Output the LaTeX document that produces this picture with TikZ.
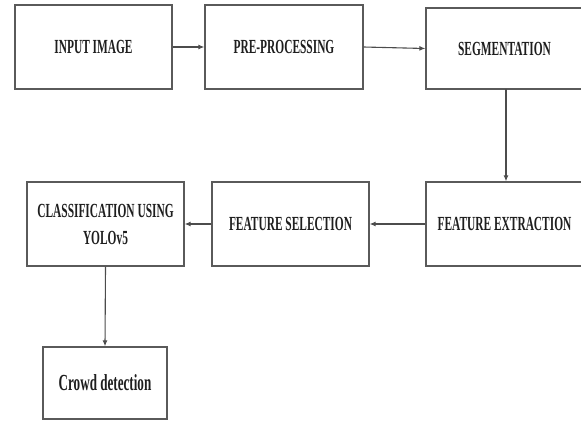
\documentclass[tikz,border=0pt]{standalone}
\usepackage{fontspec}
\setmainfont{Liberation Serif}
\newfontfamily\condfont[FakeStretch=0.57]{Liberation Serif}
\usetikzlibrary{arrows.meta}
\definecolor{boxline}{HTML}{5A5A5A}
\definecolor{txt}{HTML}{1E1E1E}
\tikzset{
  stage/.style={draw=boxline, line width=1.3pt, inner sep=0pt, align=center,
    text=txt, font=\condfont\bfseries\fontsize{20}{27}\selectfont},
  flow/.style={draw=boxline!85!black, line width=1.1pt,
    -{Latex[length=6pt,width=5pt]}}
}
\begin{document}
\begin{tikzpicture}[x=1pt,y=-1pt]
\useasboundingbox (0,0) rectangle (581,421);
\node[stage, minimum width=157pt, minimum height=84pt] (in)  at (93.5,47)  {INPUT IMAGE};
\node[stage, minimum width=158pt, minimum height=84pt] (pre) at (284,47)   {PRE-PROCESSING};
\node[stage, minimum width=157pt, minimum height=81pt] (seg) at (504.5,48.5) {SEGMENTATION};
\node[stage, minimum width=157pt, minimum height=84pt] (fe)  at (504.5,224) {FEATURE EXTRACTION};
\node[stage, minimum width=157pt, minimum height=84pt] (fs)  at (290.5,224) {FEATURE SELECTION};
\node[stage, minimum width=157pt, minimum height=84pt] (cls) at (105.5,224) {CLASSIFICATION USING\\YOLOv5};
\node[stage, minimum width=124pt, minimum height=72pt,
      font=\condfont\bfseries\fontsize{23}{28}\selectfont] (crowd) at (105,383) {Crowd detection};
\draw[flow] (in) -- (pre);
\draw[flow] (pre.east) -- (seg.west);
\draw[flow] (506,89) coordinate (s1) -- (s1 |- fe.north);
\draw[flow] (fe) -- (fs);
\draw[flow] (fs) -- (cls);
\draw[flow] (cls.south) -- (crowd.north);
\end{tikzpicture}
\end{document}
